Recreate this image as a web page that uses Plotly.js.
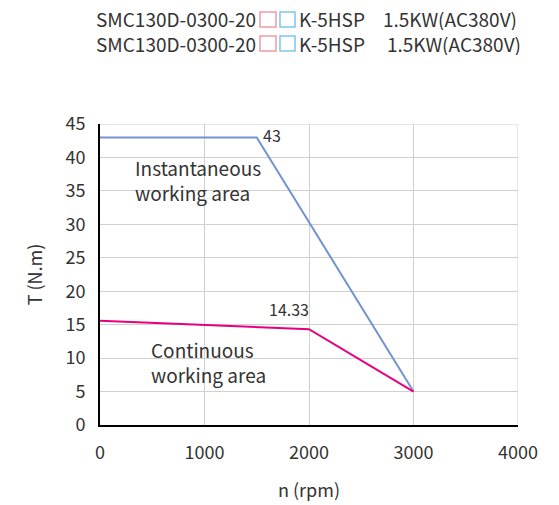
<!DOCTYPE html>
<html><head><meta charset="utf-8">
<script src="https://cdn.plot.ly/plotly-3.0.1.min.js"></script>
<style>body{margin:0;background:#fff}#c{width:559px;height:505px}</style>
</head><body><div id="c"></div>
<script>
const speedInst = [0, 1500, 3000];
const torqueInst = [43, 43, 5];
const speedCont = [0, 2000, 3000];
const torqueCont = [15.6, 14.33, 5];
const xTicks = [0, 1000, 2000, 3000, 4000];
const yTicks = [0, 5, 10, 15, 20, 25, 30, 35, 40, 45];
const modelPrefix = 'SMC130D-0300-20';
const modelSuffix = 'K-5HSP';
const ratingText = '1.5KW(AC380V)';

const font = '"Noto Sans CJK SC", "Noto Sans", sans-serif';
const txt = '#333';
const data = [
  {x: speedInst, y: torqueInst, mode: 'lines', line: {color: '#7393d0', width: 2}, hoverinfo: 'skip'},
  {x: speedCont, y: torqueCont, mode: 'lines', line: {color: '#e6007e', width: 2}, hoverinfo: 'skip'}
];
function hdr(x, y, text, anchor) {
  return {xref: 'paper', yref: 'paper', x: x, y: y, xanchor: anchor || 'left', yanchor: 'middle', text: text,
    showarrow: false, borderpad: 0, height: 23, font: {size: 19, color: txt}};
}
function box(x0, x1, y0, y1, color) {
  return {type: 'rect', xref: 'paper', yref: 'paper', x0: x0, x1: x1, y0: y0, y1: y1, line: {color: color, width: 1.5}, fillcolor: 'rgba(0,0,0,0)'};
}
const pink = '#f09aa4', sky = '#7cc6ee';
const layout = {
  width: 559, height: 505,
  margin: {l: 100, r: 41, t: 124, b: 80},
  showlegend: false,
  paper_bgcolor: '#fff', plot_bgcolor: '#fff',
  font: {family: font, color: txt, size: 18},
  xaxis: {range: [0, 4000], tickvals: xTicks, ticktext: xTicks.map(String), showgrid: true, gridcolor: '#d0d0d0', gridwidth: 1,
    zeroline: false, showline: true, linecolor: '#000', linewidth: 2, ticks: '', ticklabelstandoff: 10,
    tickfont: {size: 18, color: txt}, title: {text: 'n (rpm)', font: {size: 18, color: txt}, standoff: 22}},
  yaxis: {range: [0, 45], tickvals: yTicks, ticktext: yTicks.map(String), showgrid: true, gridcolor: '#d0d0d0', gridwidth: 1,
    zeroline: false, showline: true, linecolor: '#000', linewidth: 2, ticks: '', ticklabelstandoff: 9,
    tickfont: {size: 18, color: txt}, title: {text: 'T (N.m)', font: {size: 18, color: txt}, standoff: 18}},
  shapes: [
    {type: 'line', xref: 'x', yref: 'y', x0: 4000, x1: 4000, y0: 0, y1: 45, line: {color: '#d0d0d0', width: 1}},
    {type: 'line', xref: 'x', yref: 'y', x0: 0, x1: 4000, y0: 45, y1: 45, line: {color: '#d0d0d0', width: 1}},
    box(0.3828, 0.4211, 1.3223, 1.3721, pink),
    box(0.4306, 0.4665, 1.3223, 1.3721, sky),
    box(0.3828, 0.4211, 1.2425, 1.2924, pink),
    box(0.4306, 0.4665, 1.2425, 1.2924, sky)
  ],
  annotations: [
    hdr(-0.012, 1.349, modelPrefix), hdr(0.4737, 1.349, modelSuffix), hdr(0.6746, 1.349, ratingText),
    hdr(-0.012, 1.2664, modelPrefix), hdr(0.4737, 1.2664, modelSuffix), hdr(0.6842, 1.2664, ratingText),
    {x: 1540, y: 43.4, xanchor: 'left', yanchor: 'middle', text: '43', showarrow: false, font: {size: 16, color: txt}},
    {x: 1810, y: 15.3, xanchor: 'center', yanchor: 'bottom', text: '14.33', showarrow: false, font: {size: 16, color: txt}},
    {x: 320, y: 36.6, xanchor: 'left', yanchor: 'middle', align: 'left', text: 'Instantaneous<br>working area', showarrow: false, font: {size: 19, color: txt}},
    {x: 465, y: 9.4, xanchor: 'left', yanchor: 'middle', align: 'left', text: 'Continuous<br>working area', showarrow: false, font: {size: 19, color: txt}}
  ]
};
Plotly.newPlot('c', data, layout, {displayModeBar: false, staticPlot: true});
</script></body></html>
